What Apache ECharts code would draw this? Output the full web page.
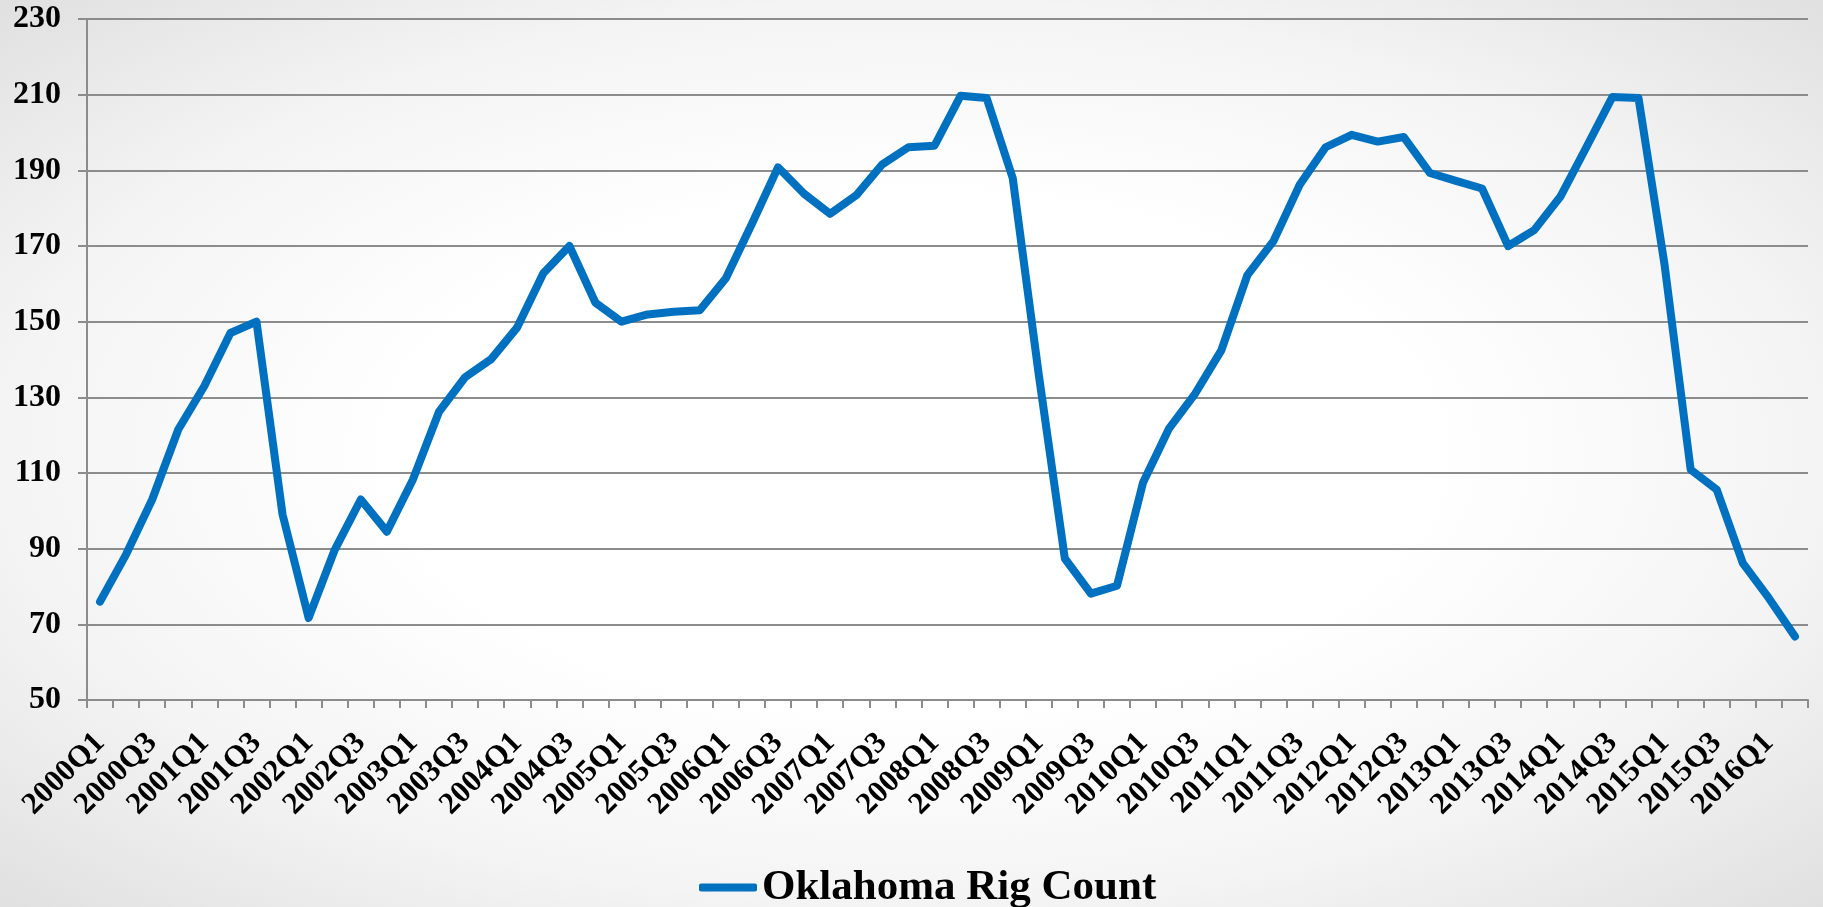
<!DOCTYPE html>
<html>
<head>
<meta charset="utf-8">
<script src="https://cdn.jsdelivr.net/npm/echarts@6/dist/echarts.min.js"></script>
<style>
  html, body {
    margin: 0;
    padding: 0;
    width: 100%;
    height: 100%;
  }
  .chart-wrapper {
    width: 1823px;
    height: 907px;
    background: radial-gradient(ellipse at center, #ffffff 40%, #f4f4f4 70%, #e0e0e0 100%);
  }
  .chart {
    width: 100%;
    height: 100%;
  }
</style>
</head>
<body>
<div class="chart-wrapper">
  <div id="chart" class="chart"></div>
</div>
<script>
// quarters shown on the x axis
const quarters = [
  '2000Q1', '2000Q2', '2000Q3', '2000Q4',
  '2001Q1', '2001Q2', '2001Q3', '2001Q4',
  '2002Q1', '2002Q2', '2002Q3', '2002Q4',
  '2003Q1', '2003Q2', '2003Q3', '2003Q4',
  '2004Q1', '2004Q2', '2004Q3', '2004Q4',
  '2005Q1', '2005Q2', '2005Q3', '2005Q4',
  '2006Q1', '2006Q2', '2006Q3', '2006Q4',
  '2007Q1', '2007Q2', '2007Q3', '2007Q4',
  '2008Q1', '2008Q2', '2008Q3', '2008Q4',
  '2009Q1', '2009Q2', '2009Q3', '2009Q4',
  '2010Q1', '2010Q2', '2010Q3', '2010Q4',
  '2011Q1', '2011Q2', '2011Q3', '2011Q4',
  '2012Q1', '2012Q2', '2012Q3', '2012Q4',
  '2013Q1', '2013Q2', '2013Q3', '2013Q4',
  '2014Q1', '2014Q2', '2014Q3', '2014Q4',
  '2015Q1', '2015Q2', '2015Q3', '2015Q4',
  '2016Q1', '2016Q2'
]

// Oklahoma rig count, quarterly average
const rigCount = [
  76, 88.5, 103, 121.5,
  133, 147, 150, 99,
  71.7, 89.7, 103, 94.5,
  108.3, 126.2, 135.3, 140.1,
  148.5, 162.8, 170, 155,
  150, 151.9, 152.6, 153,
  161.5, 175.9, 190.8, 183.8,
  178.5, 183.4, 191.6, 196.1,
  196.5, 209.7, 209.1, 188,
  136, 87.4, 78.1, 80.2,
  107.5, 121.8, 131, 142.4,
  162.3, 171.3, 186.1, 196.1,
  199.4, 197.6, 198.8, 189.3,
  187.2, 185.2, 170, 174.2,
  183, 196.1, 209.4, 209.1,
  165, 110.9, 105.6, 86.2,
  76.9, 66.8
]

const yMin = 50
const yMax = 230
const yStep = 20

const seriesName = 'Oklahoma Rig Count'
const serif = "'Times New Roman', 'Liberation Serif', serif"
const gridColor = '#8c8c8c'

const myChart = echarts.init(document.getElementById('chart'))
const option = {
  backgroundColor: 'transparent',
  animation: false,
  grid: {
    left: 87,
    right: 15,
    top: 19,
    bottom: 207,
    containLabel: false
  },
  legend: {
    data: [seriesName],
    left: 694,
    top: 861,
    icon: 'roundRect',
    itemWidth: 58,
    itemHeight: 8,
    textStyle: {
      fontFamily: serif,
      fontWeight: 'bold',
      fontSize: 43,
      color: '#000'
    }
  },
  xAxis: {
    type: 'category',
    data: quarters,
    boundaryGap: true,
    axisLine: {
      lineStyle: { color: gridColor, width: 2 }
    },
    axisTick: {
      show: true,
      interval: 0,
      length: 8,
      lineStyle: { color: gridColor, width: 2 }
    },
    axisLabel: {
      interval: 1,
      rotate: 45,
      margin: 38,
      fontFamily: serif,
      fontWeight: 'bold',
      fontSize: 31,
      color: '#000'
    }
  },
  yAxis: {
    type: 'value',
    min: yMin,
    max: yMax,
    interval: yStep,
    axisLine: {
      show: true,
      lineStyle: { color: gridColor, width: 2 }
    },
    axisTick: {
      show: true,
      length: 9,
      lineStyle: { color: gridColor, width: 2 }
    },
    splitLine: {
      lineStyle: { color: gridColor, width: 2 }
    },
    axisLabel: {
      margin: 26,
      fontFamily: serif,
      fontWeight: 'bold',
      fontSize: 32,
      color: '#000'
    }
  },
  series: [
    {
      name: seriesName,
      type: 'line',
      data: rigCount,
      showSymbol: false,
      symbol: 'none',
      lineStyle: {
        color: '#0070C0',
        width: 8,
        cap: 'round',
        join: 'round'
      },
      itemStyle: { color: '#0070C0' }
    }
  ]
}
myChart.setOption(option, true)
</script>
</body>
</html>
